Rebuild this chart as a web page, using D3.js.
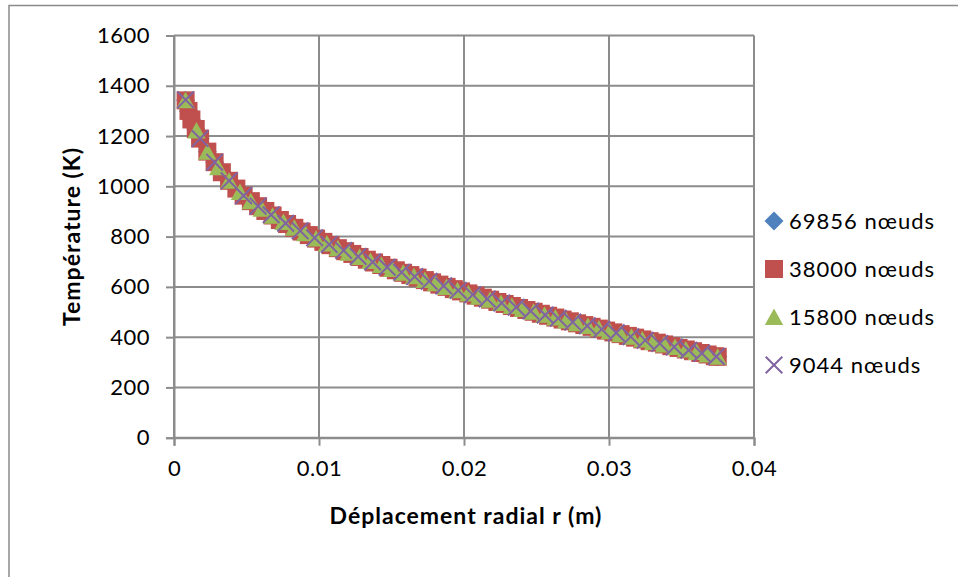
<!DOCTYPE html>
<html>
<head>
<meta charset="utf-8">
<script src="https://cdn.jsdelivr.net/npm/d3@7"></script>
<style>
  body { margin: 0; background: #fff; }
  text { font-family: Lato, "Open Sans", sans-serif; fill: #000; }
</style>
</head>
<body>
<svg id="chart" width="958" height="577"></svg>
<script>
// values (r in m, T in K)
var r69856 = [0.0008,0.0010,0.0012,0.0015,0.0018,0.0023,0.0028,0.0033,0.0038,0.0043,0.0048,0.0053,0.0058,0.0063,0.0068,0.0073,0.0078,0.0083,0.0088,0.0093,0.0098,0.0103,0.0108,0.0113,0.0118,0.0123,0.0128,0.0133,0.0138,0.0143,0.0148,0.0153,0.0158,0.0163,0.0168,0.0173,0.0178,0.0183,0.0188,0.0193,0.0198,0.0203,0.0208,0.0213,0.0218,0.0223,0.0228,0.0233,0.0238,0.0243,0.0248,0.0253,0.0258,0.0263,0.0268,0.0273,0.0278,0.0283,0.0288,0.0293,0.0298,0.0303,0.0308,0.0313,0.0318,0.0323,0.0328,0.0333,0.0338,0.0343,0.0348,0.0353,0.0358,0.0363,0.0368,0.0373,0.0375];
var t69856 = [1342,1300,1266,1228,1190,1138,1096,1056,1022,991,963,941,921,902,884,866,850,835,820,806,792,779,766,754,742,731,719,708,697,687,676,666,656,647,637,627,618,609,600,591,582,574,565,557,549,540,532,524,516,508,501,493,485,478,470,463,455,448,441,434,426,419,412,405,398,391,384,378,371,364,357,351,344,337,331,324,322];

var r38000 = [0.0008,0.0010,0.0012,0.0015,0.0018,0.0023,0.0028,0.0033,0.0038,0.0043,0.0048,0.0053,0.0058,0.0063,0.0068,0.0073,0.0078,0.0083,0.0088,0.0093,0.0098,0.0103,0.0108,0.0113,0.0118,0.0123,0.0128,0.0133,0.0138,0.0143,0.0148,0.0153,0.0158,0.0163,0.0168,0.0173,0.0178,0.0183,0.0188,0.0193,0.0198,0.0203,0.0208,0.0213,0.0218,0.0223,0.0228,0.0233,0.0238,0.0243,0.0248,0.0253,0.0258,0.0263,0.0268,0.0273,0.0278,0.0283,0.0288,0.0293,0.0298,0.0303,0.0308,0.0313,0.0318,0.0323,0.0328,0.0333,0.0338,0.0343,0.0348,0.0353,0.0358,0.0363,0.0368,0.0373,0.0375];
var t38000 = [1342,1300,1266,1228,1190,1138,1096,1056,1022,991,963,941,921,902,884,866,850,835,820,806,792,779,766,754,742,731,719,708,697,687,676,666,656,647,637,627,618,609,600,591,582,574,565,557,549,540,532,524,516,508,501,493,485,478,470,463,455,448,441,434,426,419,412,405,398,391,384,378,371,364,357,351,344,337,331,324,322];

var r15800 = [0.0008,0.00155,0.0023,0.00305,0.0038,0.00455,0.0053,0.00605,0.0068,0.00755,0.0083,0.00905,0.0098,0.01055,0.0113,0.01205,0.0128,0.01355,0.0143,0.01505,0.0158,0.01655,0.0173,0.01805,0.0188,0.01955,0.0203,0.02105,0.0218,0.02255,0.0233,0.02405,0.0248,0.02555,0.0263,0.02705,0.0278,0.02855,0.0293,0.03005,0.0308,0.03155,0.0323,0.03305,0.0338,0.03455,0.0353,0.03605,0.0368,0.0375];
var t15800 = [1342,1222,1138,1076,1022,977,941,911,883,858,835,813,792,773,754,736,719,703,687,671,656,642,627,614,600,587,574,561,549,536,524,512,501,489,478,466,455,444,434,423,412,402,391,381,371,361,351,341,331,322];

var r9044 = [0.0008,0.0018,0.0028,0.0038,0.0048,0.0058,0.0067,0.0077,0.0087,0.0097,0.0107,0.0117,0.0127,0.0137,0.0147,0.0157,0.0166,0.0176,0.0186,0.0196,0.0206,0.0216,0.0226,0.0236,0.0246,0.0256,0.0265,0.0275,0.0285,0.0295,0.0305,0.0315,0.0325,0.0335,0.0345,0.0355,0.0364,0.0374];
var t9044 = [1344,1190,1096,1022,963,921,887,853,823,795,769,745,721,699,678,658,641,622,604,586,569,552,536,519,504,488,475,460,445,431,417,402,388,375,361,348,336,323];

var seriesNames = ["69856 nœuds", "38000 nœuds", "15800 nœuds", "9044 nœuds"];
var xTicks = [0, 0.01, 0.02, 0.03, 0.04];
var yTicks = [0, 200, 400, 600, 800, 1000, 1200, 1400, 1600];

var svg = d3.select("#chart");
var gridColor = "#8c8c8c";

var x = d3.scaleLinear().domain([0, 0.04]).range([174, 754]);
var y = d3.scaleLinear().domain([0, 1600]).range([437.7, 35.5]);

// outer chart border
svg.append("path")
  .attr("d", "M9,577V5.5H958")
  .attr("fill", "none").attr("stroke", "#8a8a8a").attr("stroke-width", 1.5);

// gridlines
svg.append("g").selectAll("line").data(yTicks).enter().append("line")
  .attr("x1", x(0)).attr("x2", x(0.04))
  .attr("y1", function(d) { return y(d); }).attr("y2", function(d) { return y(d); })
  .attr("stroke", gridColor).attr("stroke-width", 2);
svg.append("g").selectAll("line").data(xTicks).enter().append("line")
  .attr("y1", y(0)).attr("y2", y(1600))
  .attr("x1", function(d) { return x(d); }).attr("x2", function(d) { return x(d); })
  .attr("stroke", gridColor).attr("stroke-width", 2);

// axes
var yAxis = svg.append("g").attr("transform", "translate(" + x(0) + ",0)")
  .call(d3.axisLeft(y).tickValues(yTicks).tickSize(8).tickPadding(16).tickFormat(d3.format("d")));
var xAxis = svg.append("g").attr("transform", "translate(0," + y(0) + ")")
  .call(d3.axisBottom(x).tickValues(xTicks).tickSize(8).tickFormat(function(d) { return d === 0 ? "0" : String(d); }));

[yAxis, xAxis].forEach(function(a) {
  a.select(".domain").attr("stroke", gridColor).attr("stroke-width", 2);
  a.selectAll(".tick line").attr("stroke", gridColor).attr("stroke-width", 2);
  a.selectAll("text").style("font-family", "Lato, sans-serif").style("font-size", "22px")
    .style("letter-spacing", "0.5px").attr("fill", "#000");
});
xAxis.selectAll("text").attr("y", 38).attr("dy", 0);

// axis titles
svg.append("text")
  .attr("transform", "translate(80,236.5) rotate(-90)")
  .attr("text-anchor", "middle")
  .style("font-size", "23px").style("font-weight", "bold").style("letter-spacing", "1px")
  .text("Température (K)");
svg.append("text")
  .attr("x", 466).attr("y", 524)
  .attr("text-anchor", "middle")
  .style("font-size", "23px").style("font-weight", "bold").style("letter-spacing", "1px")
  .text("Déplacement radial r (m)");

// marker shapes
function diamond(g) {
  g.append("path").attr("d", "M0,-9.5L9.5,0L0,9.5L-9.5,0Z").attr("fill", "#4F81BD");
}
function square(g) {
  g.append("rect").attr("x", -9).attr("y", -9).attr("width", 18).attr("height", 18)
    .attr("fill", "#C0504D");
}
function triangle(g) {
  g.append("path").attr("d", "M0,-8.5L9.2,8L-9.2,8Z").attr("fill", "#9BBB59");
}
function cross(g) {
  g.append("path").attr("d", "M-8.3,-8.3L8.3,8.3M-8.3,8.3L8.3,-8.3")
    .attr("stroke", "#8064A2").attr("stroke-width", 2).attr("fill", "none");
}

var series = [
  { r: r69856, t: t69856, draw: diamond },
  { r: r38000, t: t38000, draw: square },
  { r: r15800, t: t15800, draw: triangle },
  { r: r9044, t: t9044, draw: cross }
];

series.forEach(function(sr) {
  var pts = sr.r.map(function(rv, i) { return [rv, sr.t[i]]; });
  svg.append("g").selectAll("g").data(pts).enter().append("g")
    .attr("transform", function(d) { return "translate(" + x(d[0]) + "," + y(d[1]) + ")"; })
    .each(function() { sr.draw(d3.select(this)); });
});

// legend
var legend = svg.append("g");
var rowY = [221, 269, 317, 365];
series.forEach(function(sr, i) {
  var g = legend.append("g").attr("transform", "translate(774," + rowY[i] + ")");
  sr.draw(g);
  legend.append("text")
    .attr("x", 789).attr("y", rowY[i]).attr("dy", "0.36em")
    .style("font-size", "22px").style("letter-spacing", "1px")
    .text(seriesNames[i]);
});
</script>
</body>
</html>
